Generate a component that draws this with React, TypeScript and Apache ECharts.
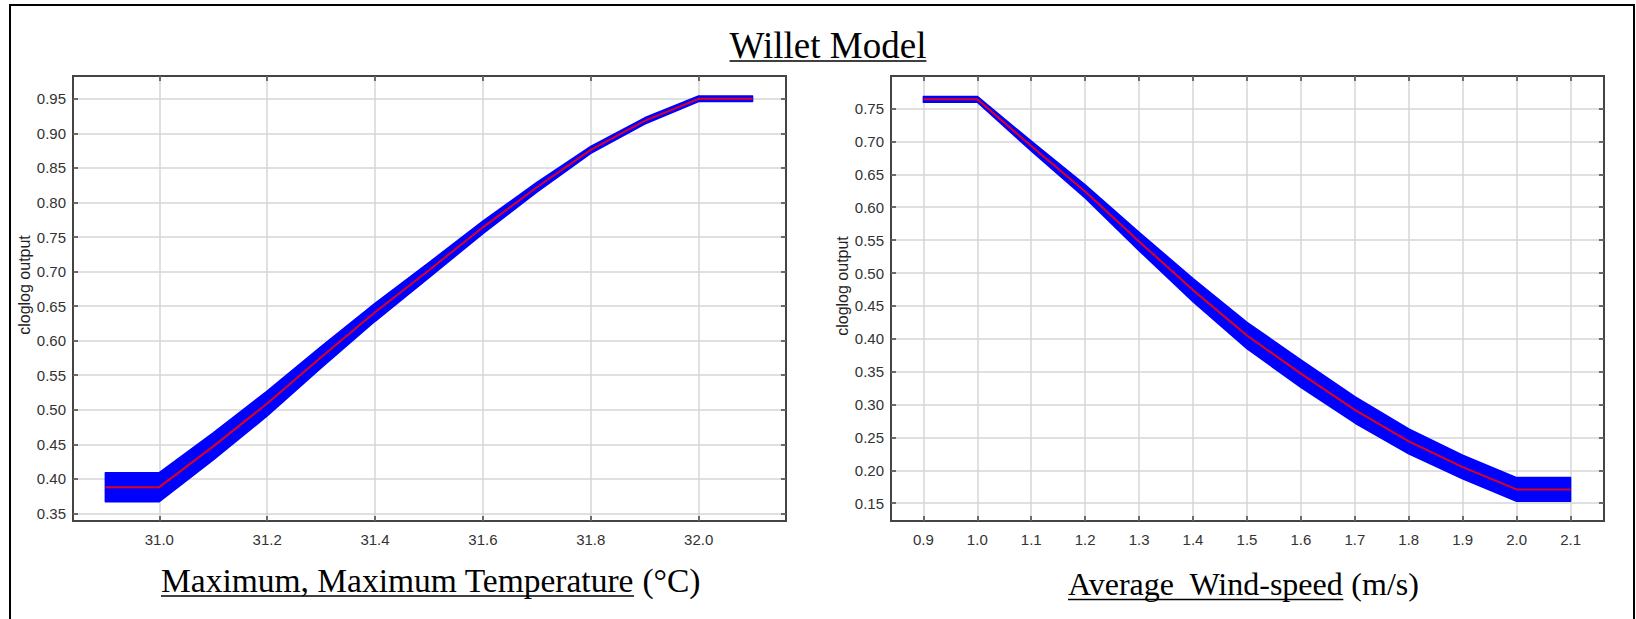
import React, { useEffect, useRef } from "react";
import * as echarts from "echarts";

// ---- Data ----
const leftX = [30.9, 31.0, 31.1, 31.2, 31.3, 31.4, 31.5, 31.6, 31.7, 31.8, 31.9, 32.0, 32.1];
const leftMean = [0.388, 0.388, 0.447, 0.509, 0.576, 0.641, 0.702, 0.764, 0.822, 0.876, 0.918, 0.95, 0.95];
const leftLower = [0.367, 0.367, 0.4275, 0.491, 0.5605, 0.628, 0.691, 0.755, 0.815, 0.871, 0.9135, 0.946, 0.946];
const leftUpper = [0.409, 0.409, 0.4665, 0.527, 0.5915, 0.654, 0.713, 0.773, 0.829, 0.881, 0.9225, 0.954, 0.954];

const rightX = [0.9, 1.0, 1.1, 1.2, 1.3, 1.4, 1.5, 1.6, 1.7, 1.8, 1.9, 2.0, 2.1];
const rightMean = [0.764, 0.764, 0.693, 0.624, 0.548, 0.474, 0.405, 0.347, 0.292, 0.244, 0.205, 0.171, 0.171];
const rightLower = [0.7595, 0.7595, 0.6855, 0.614, 0.534, 0.4565, 0.385, 0.326, 0.272, 0.225, 0.187, 0.153, 0.153];
const rightUpper = [0.7685, 0.7685, 0.7005, 0.634, 0.562, 0.4915, 0.425, 0.368, 0.312, 0.263, 0.223, 0.189, 0.189];

const leftXTicks = [31.0, 31.2, 31.4, 31.6, 31.8, 32.0];
const leftYTicks = [0.35, 0.4, 0.45, 0.5, 0.55, 0.6, 0.65, 0.7, 0.75, 0.8, 0.85, 0.9, 0.95];
const rightXTicks = [0.9, 1.0, 1.1, 1.2, 1.3, 1.4, 1.5, 1.6, 1.7, 1.8, 1.9, 2.0, 2.1];
const rightYTicks = [0.15, 0.2, 0.25, 0.3, 0.35, 0.4, 0.45, 0.5, 0.55, 0.6, 0.65, 0.7, 0.75];

const TITLE = "Willet Model";
const Y_NAME = "cloglog output";
const LEFT_XNAME_U = "Maximum, Maximum Temperature";
const LEFT_XNAME_REST = " (°C)";
const RIGHT_XNAME_U = "Average  Wind-speed";
const RIGHT_XNAME_REST = " (m/s)";

const W = 1636;
const H = 619;
const SERIF = '"Liberation Serif", "Times New Roman", serif';
const SANS = '"Liberation Sans", Arial, sans-serif';

function measure(text: string, font: string): number {
  const ctx = document.createElement("canvas").getContext("2d");
  if (!ctx) return text.length * 14;
  ctx.font = font;
  return ctx.measureText(text).width;
}

function underlinedLabel(x0: number, y: number, underlined: string, rest: string, size: number, ulY: number) {
  const font = `${size}px ${SERIF}`;
  const wU = measure(underlined, `${size}px "Liberation Serif"`);
  const els: any[] = [
    {
      type: "text",
      x: x0,
      y,
      style: { text: underlined, font, fill: "#000", align: "left", verticalAlign: "middle" },
    },
    {
      type: "line",
      shape: { x1: x0, y1: ulY, x2: x0 + wU, y2: ulY },
      style: { stroke: "#000", lineWidth: 1.5 },
    },
  ];
  if (rest) {
    els.push({
      type: "text",
      x: x0 + wU,
      y,
      style: { text: rest, font, fill: "#000", align: "left", verticalAlign: "middle" },
    });
  }
  return els;
}

function axesFor(gridIndex: number, xMin: number, xMax: number, xTicks: number[], xDec: number,
  yMin: number, yMax: number, yTicks: number[]) {
  const tickStyle = { color: "#444", width: 1.5 };
  const labelStyle = { color: "#333", fontFamily: SANS, fontSize: 15 };
  const grid = { color: "#d6d6d6", width: 1.5 };
  const xAxes = [
    {
      type: "value", gridIndex, min: xMin, max: xMax, position: "bottom",
      axisLine: { show: false },
      axisTick: { show: true, inside: true, length: 5, customValues: xTicks, lineStyle: tickStyle },
      axisLabel: { show: true, customValues: xTicks, formatter: (v: number) => v.toFixed(xDec), margin: 11, ...labelStyle },
      splitLine: { show: true, lineStyle: grid },
    },
    {
      type: "value", gridIndex, min: xMin, max: xMax, position: "top",
      axisLine: { show: false },
      axisTick: { show: true, inside: true, length: 5, customValues: xTicks, lineStyle: tickStyle },
      axisLabel: { show: false },
      splitLine: { show: false },
    },
  ];
  const yAxes = [
    {
      type: "value", gridIndex, min: yMin, max: yMax, position: "left",
      axisLine: { show: false },
      axisTick: { show: true, inside: true, length: 5, customValues: yTicks, lineStyle: tickStyle },
      axisLabel: { show: true, customValues: yTicks, formatter: (v: number) => v.toFixed(2), margin: 7, ...labelStyle },
      splitLine: { show: true, lineStyle: grid },
    },
    {
      type: "value", gridIndex, min: yMin, max: yMax, position: "right",
      axisLine: { show: false },
      axisTick: { show: true, inside: true, length: 5, customValues: yTicks, lineStyle: tickStyle },
      axisLabel: { show: false },
      splitLine: { show: false },
    },
  ];
  return { xAxes, yAxes };
}

function seriesFor(idx: number, xs: number[], mean: number[], lower: number[], upper: number[]) {
  return [
    {
      type: "custom", xAxisIndex: idx * 2, yAxisIndex: idx * 2,
      data: xs.map((x, i) => [x, lower[i], upper[i]]),
      encode: { x: 0, y: [1, 2] },
      z: 2,
      renderItem: (params: any, api: any) => {
        if (params.dataIndex !== 0) return null;
        const pts: number[][] = [];
        for (let k = 0; k < xs.length; k++) pts.push(api.coord([xs[k], upper[k]]));
        for (let k = xs.length - 1; k >= 0; k--) pts.push(api.coord([xs[k], lower[k]]));
        return {
          type: "polygon",
          shape: { points: pts },
          style: { fill: "#0000ff", stroke: "#0000ff", lineWidth: 1.5, lineJoin: "round" },
        };
      },
    },
    {
      type: "line", xAxisIndex: idx * 2, yAxisIndex: idx * 2,
      data: xs.map((x, i) => [x, mean[i]]),
      symbol: "none", showSymbol: false,
      lineStyle: { color: "#e0001b", width: 2 },
      z: 3,
    },
  ];
}

export default function App() {
  const ref = useRef<HTMLDivElement>(null);

  useEffect(() => {
    if (!ref.current) return;
    const chart = echarts.init(ref.current, undefined, { renderer: "svg", width: W, height: H });

    const L = axesFor(0, 30.84, 32.162, leftXTicks, 1, 0.339, 0.983, leftYTicks);
    const R = axesFor(1, 0.84, 2.162, rightXTicks, 1, 0.123, 0.7995, rightYTicks);

    const titleSize = 37;
    const titleW = measure(TITLE, `${titleSize}px "Liberation Serif"`);
    const titleX = 828 - titleW / 2;

    const graphics: any[] = [
      {
        type: "rect",
        shape: { x: 10, y: 5, width: 1624, height: 700 },
        style: { fill: "none", stroke: "#000", lineWidth: 2 },
        silent: true,
      },
      ...underlinedLabel(titleX, 45, TITLE, "", titleSize, 61),
      ...underlinedLabel(161, 580, LEFT_XNAME_U, LEFT_XNAME_REST, 33.5, 596),
      ...underlinedLabel(1068, 584, RIGHT_XNAME_U, RIGHT_XNAME_REST, 32, 599.5),
      {
        type: "text", x: 24, y: 285, rotation: Math.PI / 2,
        style: { text: Y_NAME, font: `16px ${SANS}`, fill: "#222", align: "center", verticalAlign: "middle" },
      },
      {
        type: "text", x: 842, y: 286, rotation: Math.PI / 2,
        style: { text: Y_NAME, font: `16px ${SANS}`, fill: "#222", align: "center", verticalAlign: "middle" },
      },
    ];

    chart.setOption({
      animation: false,
      backgroundColor: "#ffffff",
      grid: [
        { left: 73, top: 76, width: 713, height: 445, show: true, borderColor: "#444", borderWidth: 2, backgroundColor: "#fff", containLabel: false },
        { left: 891, top: 76, width: 713, height: 445, show: true, borderColor: "#444", borderWidth: 2, backgroundColor: "#fff", containLabel: false },
      ],
      xAxis: [...L.xAxes, ...R.xAxes],
      yAxis: [...L.yAxes, ...R.yAxes],
      series: [
        ...seriesFor(0, leftX, leftMean, leftLower, leftUpper),
        ...seriesFor(1, rightX, rightMean, rightLower, rightUpper),
      ],
      graphic: graphics,
    });

    return () => chart.dispose();
  }, []);

  return (
    <div
      ref={ref}
      style={{ position: "absolute", left: 0, top: 0, width: W, height: H, background: "#fff" }}
    />
  );
}
